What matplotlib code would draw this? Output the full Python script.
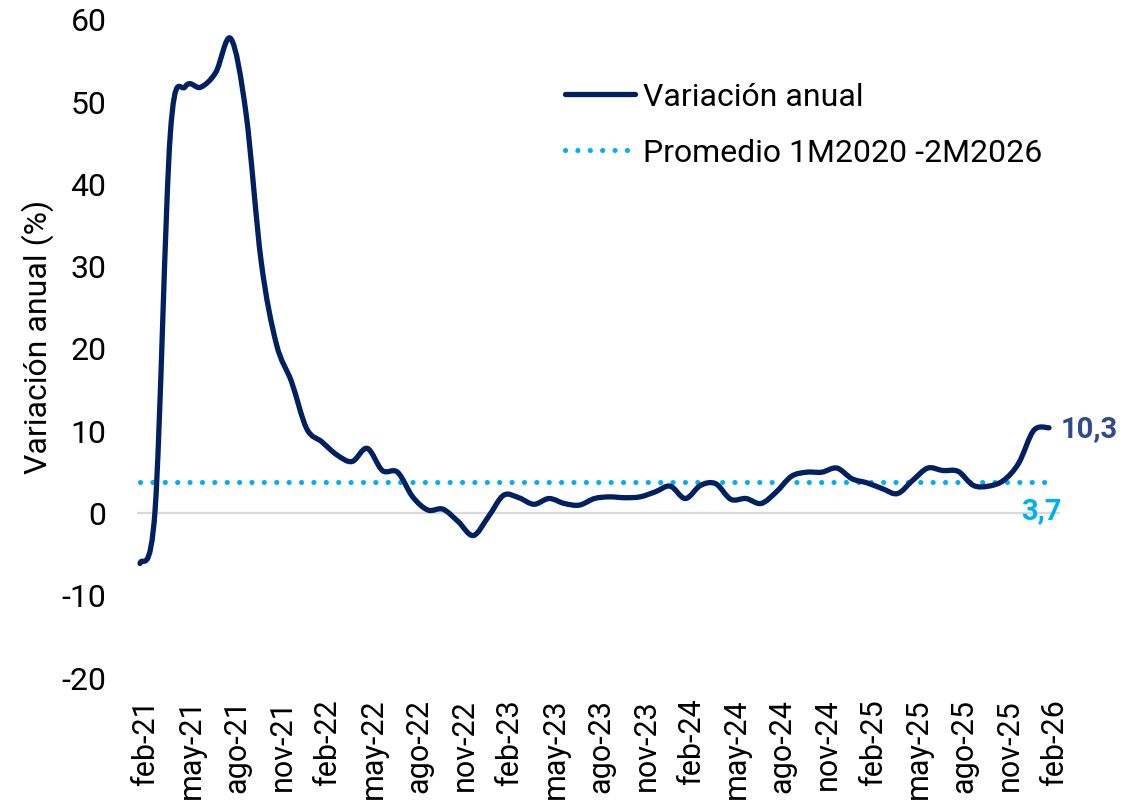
"""Variación anual con promedio 1M2020-2M2026, línea suavizada estilo Excel."""

import matplotlib
matplotlib.use("Agg")
import matplotlib.pyplot as plt
from matplotlib.path import Path
from matplotlib.patches import PathPatch
from matplotlib.lines import Line2D
from matplotlib.transforms import ScaledTranslation

plt.rcParams["font.family"] = ["Roboto", "DejaVu Sans"]

# monthly values feb-21 .. feb-26
variacion = [
    -6.2, 0.4, 46.0, 51.8, 51.7, 53.5, 57.6, 48.5, 30.5, 20.5,
    15.9, 10.2, 8.6, 7.0, 6.2, 7.8, 5.1, 4.9, 1.9, 0.3,
    0.4, -1.1, -2.8, -0.5, 2.1, 1.8, 1.0, 1.7, 1.1, 0.9,
    1.7, 1.9, 1.8, 1.9, 2.5, 3.2, 1.7, 3.3, 3.5, 1.6,
    1.7, 1.1, 2.5, 4.4, 4.9, 4.9, 5.4, 4.1, 3.6, 2.9,
    2.3, 3.9, 5.4, 5.1, 5.0, 3.3, 3.2, 3.9, 6.0, 10.0,
    10.3,
]
promedio = 3.7
ultimo = 10.3

tick_labels = [
    "feb-21", "may-21", "ago-21", "nov-21",
    "feb-22", "may-22", "ago-22", "nov-22",
    "feb-23", "may-23", "ago-23", "nov-23",
    "feb-24", "may-24", "ago-24", "nov-24",
    "feb-25", "may-25", "ago-25", "nov-25",
    "feb-26",
]
y_ticks = [-20, -10, 0, 10, 20, 30, 40, 50, 60]

NAVY = "#002060"
CYAN = "#00B0F0"
LABEL_NAVY = "#2F4A8E"


def smooth_path(xs, ys):
    # catmull-rom -> cubic bezier, like excel's "smoothed line"
    n = len(xs)
    verts = [(xs[0], ys[0])]
    codes = [Path.MOVETO]
    for i in range(n - 1):
        x0, y0 = xs[max(i - 1, 0)], ys[max(i - 1, 0)]
        x1, y1 = xs[i], ys[i]
        x2, y2 = xs[i + 1], ys[i + 1]
        x3, y3 = xs[min(i + 2, n - 1)], ys[min(i + 2, n - 1)]
        c1 = (x1 + (x2 - x0) / 6, y1 + (y2 - y0) / 6)
        c2 = (x2 - (x3 - x1) / 6, y2 - (y3 - y1) / 6)
        verts += [c1, c2, (x2, y2)]
        codes += [Path.CURVE4] * 3
    return Path(verts, codes)


fig = plt.figure(figsize=(11.45, 8.04), dpi=100)
W, H = 1145, 804
# plot area in pixels: x 137..1060, y 20..678
ax = fig.add_axes([137 / W, (H - 678) / H, (1060 - 137) / W, (678 - 20) / H])

months = list(range(len(variacion)))
px_per_month = (1049 - 140) / 60
ax.set_xlim(-3 / px_per_month, 60 + 11 / px_per_month)
ax.set_ylim(-20, 60)

ax.axhline(0, color="#D9D9D9", lw=1.6, zorder=1)

ax.plot(months, [promedio] * len(months), color=CYAN, lw=3.7,
        linestyle=(0, (0.01, 2.4)), dash_capstyle="round", zorder=2)

patch = PathPatch(smooth_path(months, variacion), facecolor="none",
                  edgecolor=NAVY, lw=3.8, capstyle="round", joinstyle="round",
                  zorder=3)
ax.add_patch(patch)

for s in ax.spines.values():
    s.set_visible(False)

ax.set_yticks(y_ticks)
ax.set_yticklabels([str(v) for v in y_ticks])
ax.set_xticks(months[::3])
ax.set_xticklabels(tick_labels, rotation=90, va="top", ha="center")
ax.tick_params(axis="both", length=0, labelsize=23, colors="black")
ax.tick_params(axis="y", pad=22)
ax.tick_params(axis="x", pad=15, labelsize=22)
shift = ScaledTranslation(6 / 100, 0, fig.dpi_scale_trans)
for lab in ax.get_xticklabels():
    lab.set_transform(lab.get_transform() + shift)

fig.text(38 / W, 1 - 337 / H, "Variación anual (%)", rotation=90,
         ha="center", va="center", fontsize=23)

# end labels
ax.annotate(f"{ultimo:.1f}".replace(".", ","), xy=(60, ultimo), xytext=(12, 0),
            textcoords="offset pixels", ha="left", va="center",
            fontsize=21, fontweight="bold", color=LABEL_NAVY)
ax.annotate(f"{promedio:.1f}".replace(".", ","), xy=(60, promedio), xytext=(13, -28),
            textcoords="offset pixels", ha="right", va="center",
            fontsize=21, fontweight="bold", color=CYAN)

handles = [
    Line2D([], [], color=NAVY, lw=3.8, solid_capstyle="round"),
    Line2D([], [], color=CYAN, lw=3.7, linestyle=(0, (0.01, 2.4)),
           dash_capstyle="round"),
]
ax.legend(handles, ["Variación anual", "Promedio 1M2020 -2M2026"],
          loc="upper left", bbox_to_anchor=(565 / W, 1 - 83 / H),
          bbox_transform=fig.transFigure, frameon=False, fontsize=23,
          handlelength=2.2, handletextpad=0.25, labelspacing=0.85,
          borderaxespad=0, borderpad=0)

fig.savefig("out.png", dpi=100)
